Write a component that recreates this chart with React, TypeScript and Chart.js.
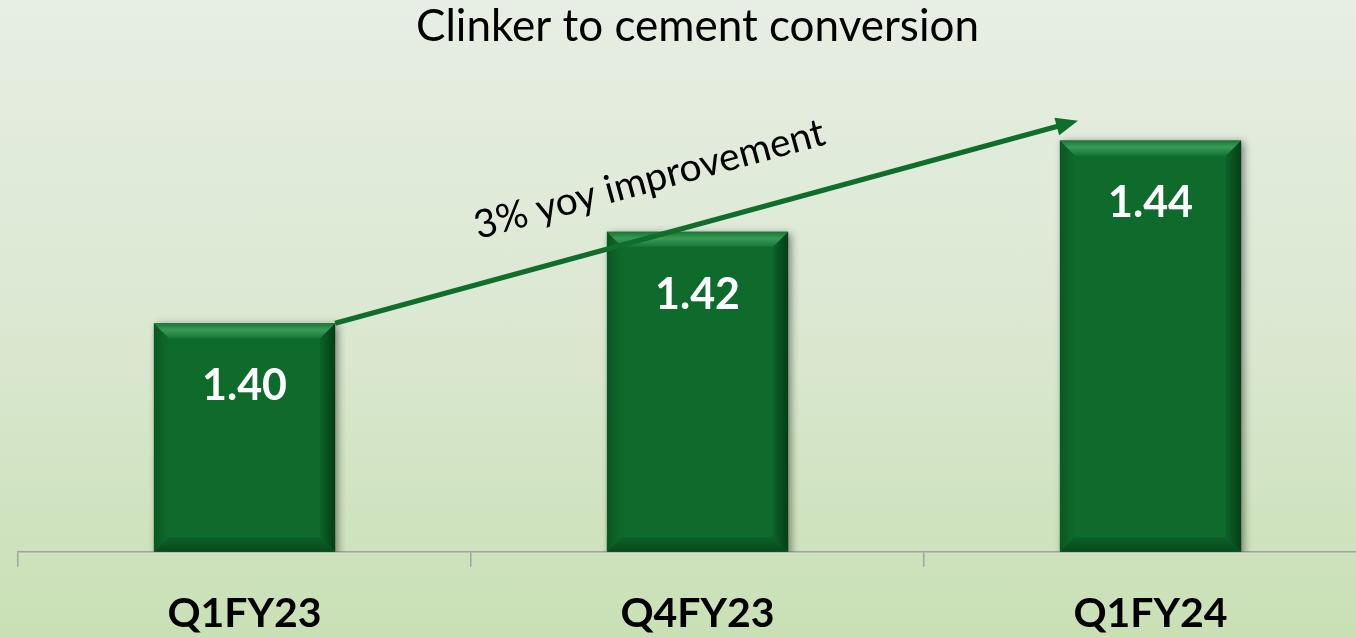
import { useEffect, useRef } from 'react';
import { Chart, registerables } from 'chart.js';
Chart.register(...registerables);

const categories = ['Q1FY23', 'Q4FY23', 'Q1FY24'];
const values = [1.4, 1.42, 1.44];
const valueLabels = ['1.40', '1.42', '1.44'];
const titleText = 'Clinker to cement conversion';
const annotationText = '3% yoy improvement';
// arrow endpoints in data coordinates (category index, value)
const arrowStart = { x: 0.2, y: 1.4 };
const arrowEnd = { x: 1.84, y: 1.4443 };
const yMin = 1.35;
const yMax = 1.46;

const FONT = 'Lato, "Open Sans", sans-serif';

export default function App() {
  const ref = useRef<HTMLCanvasElement>(null);
  useEffect(() => {
    document.body.style.margin = '0';
    const canvas = ref.current!;

    const bevelPlugin = {
      id: 'bevel',
      beforeDatasetsDraw(chart: any) {
        const ctx = chart.ctx;
        ctx.save();
        ctx.shadowColor = 'rgba(0,0,0,0.45)';
        ctx.shadowBlur = 8;
        ctx.shadowOffsetX = 3;
        ctx.shadowOffsetY = 2;
      },
      afterDatasetsDraw(chart: any) {
        const ctx = chart.ctx;
        ctx.restore();
        const meta = chart.getDatasetMeta(0);
        meta.data.forEach((bar: any, i: number) => {
          const { x, y, base, width } = bar.getProps(['x', 'y', 'base', 'width'], true);
          const x0 = x - width / 2;
          const x1 = x + width / 2;
          const y0 = y;
          const y1 = Math.min(base, chart.chartArea.bottom);
          const b = 15;
          const poly = (pts: number[][], fill: any) => {
            ctx.beginPath();
            ctx.moveTo(pts[0][0], pts[0][1]);
            for (let k = 1; k < pts.length; k++) ctx.lineTo(pts[k][0], pts[k][1]);
            ctx.closePath();
            ctx.fillStyle = fill;
            ctx.fill();
          };
          ctx.save();
          // left
          let g = ctx.createLinearGradient(x0, 0, x0 + b, 0);
          g.addColorStop(0, '#0a5722');
          g.addColorStop(1, '#0f6b2c');
          poly([[x0, y0], [x0 + b, y0 + b], [x0 + b, y1 - b], [x0, y1]], g);
          // right
          g = ctx.createLinearGradient(x1 - b, 0, x1, 0);
          g.addColorStop(0, '#0d6229');
          g.addColorStop(1, '#053d15');
          poly([[x1, y0], [x1 - b, y0 + b], [x1 - b, y1 - b], [x1, y1]], g);
          // bottom
          g = ctx.createLinearGradient(0, y1 - b, 0, y1);
          g.addColorStop(0, '#0d6229');
          g.addColorStop(1, '#08481c');
          poly([[x0, y1], [x0 + b, y1 - b], [x1 - b, y1 - b], [x1, y1]], g);
          // top
          g = ctx.createLinearGradient(0, y0, 0, y0 + b);
          g.addColorStop(0, '#1a7736');
          g.addColorStop(0.45, '#3a9a57');
          g.addColorStop(1, '#15763a');
          poly([[x0, y0], [x1, y0], [x1 - b, y0 + b], [x0 + b, y0 + b]], g);
          // value label
          ctx.fillStyle = '#ffffff';
          ctx.font = `bold 43px ${FONT}`;
          ctx.textAlign = 'center';
          ctx.textBaseline = 'middle';
          ctx.fillText(valueLabels[i], x, y0 + 63);
          ctx.restore();
        });
      },
    };

    const arrowPlugin = {
      id: 'arrow',
      afterDraw(chart: any) {
        const ctx = chart.ctx;
        const xs = chart.scales.x;
        const ys = chart.scales.y;
        const sx = xs.getPixelForValue(arrowStart.x);
        const sy = ys.getPixelForValue(arrowStart.y);
        const ex = xs.getPixelForValue(arrowEnd.x);
        const ey = ys.getPixelForValue(arrowEnd.y);
        const ang = Math.atan2(ey - sy, ex - sx);
        const headLen = 22;
        const headW = 9;
        ctx.save();
        ctx.strokeStyle = '#0f6e2c';
        ctx.fillStyle = '#0f6e2c';
        ctx.lineWidth = 5;
        ctx.beginPath();
        ctx.moveTo(sx, sy);
        ctx.lineTo(ex - Math.cos(ang) * (headLen - 2), ey - Math.sin(ang) * (headLen - 2));
        ctx.stroke();
        ctx.beginPath();
        ctx.moveTo(ex, ey);
        const bx = ex - Math.cos(ang) * headLen;
        const by = ey - Math.sin(ang) * headLen;
        ctx.lineTo(bx + Math.sin(ang) * headW, by - Math.cos(ang) * headW);
        ctx.lineTo(bx - Math.sin(ang) * headW, by + Math.cos(ang) * headW);
        ctx.closePath();
        ctx.fill();
        // annotation text
        const t = 0.443;
        const px = sx + (ex - sx) * t;
        const py = sy + (ey - sy) * t;
        const d = 56;
        const tx = px + Math.sin(ang) * d;
        const ty = py - Math.cos(ang) * d;
        ctx.translate(tx, ty);
        ctx.rotate(ang);
        ctx.fillStyle = '#000000';
        ctx.font = `39px ${FONT}`;
        ctx.textAlign = 'center';
        ctx.textBaseline = 'middle';
        ctx.fillText(annotationText, 0, 0);
        ctx.restore();
      },
    };

    const chart = new Chart(canvas, {
      type: 'bar',
      data: {
        labels: categories,
        datasets: [
          {
            data: values,
            backgroundColor: '#0f6b2c',
            borderWidth: 0,
            barPercentage: 0.4,
            categoryPercentage: 1,
          },
        ],
      },
      options: {
        responsive: false,
        animation: false,
        layout: { padding: { top: 5, left: 18, right: 8, bottom: 0 } },
        plugins: {
          legend: { display: false },
          tooltip: { enabled: false },
          title: {
            display: true,
            text: titleText,
            color: '#000000',
            font: { family: FONT, size: 44, weight: 'normal', lineHeight: 1 },
            padding: { top: 0, bottom: 0 },
          },
        },
        scales: {
          y: { display: false, min: yMin, max: yMax },
          x: {
            border: { display: true, color: '#a3a3a3', width: 1.5 },
            grid: {
              display: true,
              drawOnChartArea: false,
              drawTicks: true,
              tickLength: 15,
              color: '#a3a3a3',
              lineWidth: 1.5,
              offset: true,
            },
            ticks: {
              color: '#000000',
              font: { family: FONT, size: 41, weight: 'bold' },
              padding: 22,
            },
          },
        },
      },
      plugins: [bevelPlugin, arrowPlugin],
    });
    return () => chart.destroy();
  }, []);
  return (
    <div
      style={{
        position: 'relative',
        width: 1356,
        height: 637,
        overflow: 'hidden',
        background: 'linear-gradient(to bottom, #e7eee3 0%, #dbe8d2 50%, #c9e0b5 100%)',
      }}
    >
      <canvas ref={ref} width={1385} height={660} style={{ position: 'absolute', left: 0, top: 0 }} />
    </div>
  );
}
